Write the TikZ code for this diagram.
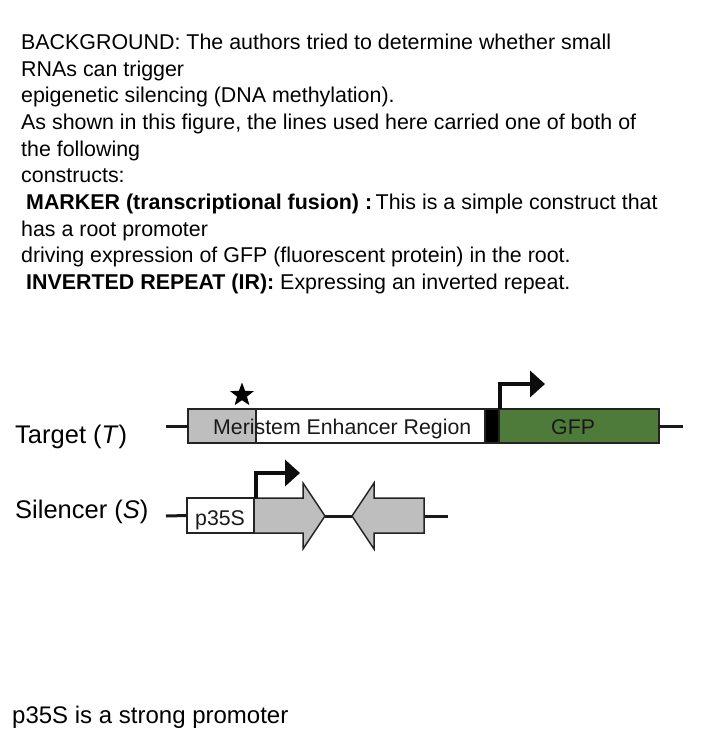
\documentclass[tikz,border=0pt]{standalone}
\usepackage{fontspec}
\setmainfont{Liberation Sans}
\usepackage{xcolor}
\usepackage{tikz}
\usetikzlibrary{arrows.meta}
\usetikzlibrary{shapes.geometric}

\definecolor{regiongray}{RGB}{190,190,190}
\definecolor{gfpgreen}{RGB}{78,122,58}
\definecolor{boxline}{RGB}{35,35,35}

\tikzset{
  bodytext/.style={anchor=base west,inner sep=0pt,font=\fontsize{21.4}{26}\selectfont},
  rowlabel/.style={anchor=base west,inner sep=0pt,font=\fontsize{25.5}{30}\selectfont},
  boxtext/.style={anchor=base west,inner sep=0pt,text=black!90,font=\fontsize{21.3}{26}\selectfont},
  segment/.style={draw=boxline,line width=1.5pt,minimum height=34pt,inner sep=0pt,outer sep=0pt},
  backbone/.style={line width=3pt,black!90},
  promoter/.style={line width=4.5pt,black!95,-{Triangle[length=15pt,width=26pt]}}
}

\begin{document}
\begin{tikzpicture}[x=1pt,y=-1pt]
				\useasboundingbox (0,0) rectangle (704,748);
				
				% text above the figure
				\node[bodytext] (bg0) at (21,49.5) {BACKGROUND: The authors tried to determine whether small};
				\node[bodytext] (bg1) at (21,76.2) {RNAs can trigger};
				\node[bodytext] (bg2) at (21,102.8) {epigenetic silencing (DNA methylation).};
				\node[bodytext] (bg3) at (21,129.5) {As shown in this figure, the lines used here carried one of both of};
				\node[bodytext] (bg4) at (21,156.2) {the following};
				\node[bodytext] (bg5) at (21,182.8) {constructs:};
				\node[bodytext] (bg6) at (26,209.5) {\textbf{MARKER (transcriptional fusion) :}\,This is a simple construct that};
				\node[bodytext] (bg7) at (21,236.2) {has a root promoter};
				\node[bodytext] (bg8) at (21,262.8) {driving expression of GFP (fluorescent protein) in the root.};
				\node[bodytext] (bg9) at (26,289.5) {\textbf{INVERTED REPEAT (IR):} Expressing an inverted repeat.};
				
				% target construct
				\node[segment,fill=regiongray,minimum width=68pt,anchor=north west] (mer) at (188,409) {};
				\node[segment,fill=white,minimum width=229pt,anchor=north west] (enh) at (mer.north east) {};
				\node[segment,fill=black,minimum width=14pt,anchor=north west] (tata) at (enh.north east) {};
				\node[segment,fill=gfpgreen,minimum width=160pt,anchor=north west] (gfp) at (tata.north east) {};
				\coordinate (tL) at (166,426);
				\coordinate (tR) at (683,426);
				\coordinate (tssT) at (545,384);
				\draw[backbone] (tL) -- (mer.west);
				\draw[backbone] (gfp.east) -- (tR);
				\draw[promoter] ([xshift=1pt]gfp.north west) |- (tssT);
				\node[star,star points=5,star point ratio=2.4,fill=black,minimum size=25pt,inner sep=0pt] (mark) at (242,395) {};
				\node[boxtext] (merTxt) at (213,434) {Meristem Enhancer Region};
				\node[boxtext] (gfpTxt) at (551,434) {GFP};
				
				% silencer construct
				\node[segment,fill=white,minimum width=67pt,minimum height=35pt,anchor=north west] (p35) at (187,498) {};
				\coordinate (sL) at (166,516);
				\coordinate (irA) at (325,516);
				\coordinate (irB) at (352,516);
				\coordinate (irR) at (424,516);
				\coordinate (sR) at (448,516);
				\coordinate (tssS) at (300,473);
				\draw[backbone] (sL) -- (p35.west);
				\draw[backbone] (irA) -- (irB);
				\draw[backbone] (irR) -- (sR);
				\draw[segment,fill=regiongray] (p35.north east) -- (303,498) -- (303,483) -- (irA)
					-- (303,549) -- (303,533) -- (p35.south east) -- cycle;
				\draw[segment,fill=regiongray] (irB) -- (374,483) -- (374,498) -- (irR |- 0,498)
					-- (irR |- 0,533) -- (374,533) -- (374,549) -- cycle;
				\draw[promoter] ([xshift=2pt]p35.north east) |- (tssS);
				\node[boxtext] (p35Txt) at (195,525) {p35S};
				
				% row labels
				\node[rowlabel] (tLab) at (15,443) {Target (\textit{T})};
				\node[rowlabel] (sLab) at (15,518) {Silencer (\textit{S})};
				
				% note below
				\node[bodytext,font=\fontsize{24}{28}\selectfont] (note) at (12,723) {p35S is a strong promoter};
			\end{tikzpicture}
\end{document}
